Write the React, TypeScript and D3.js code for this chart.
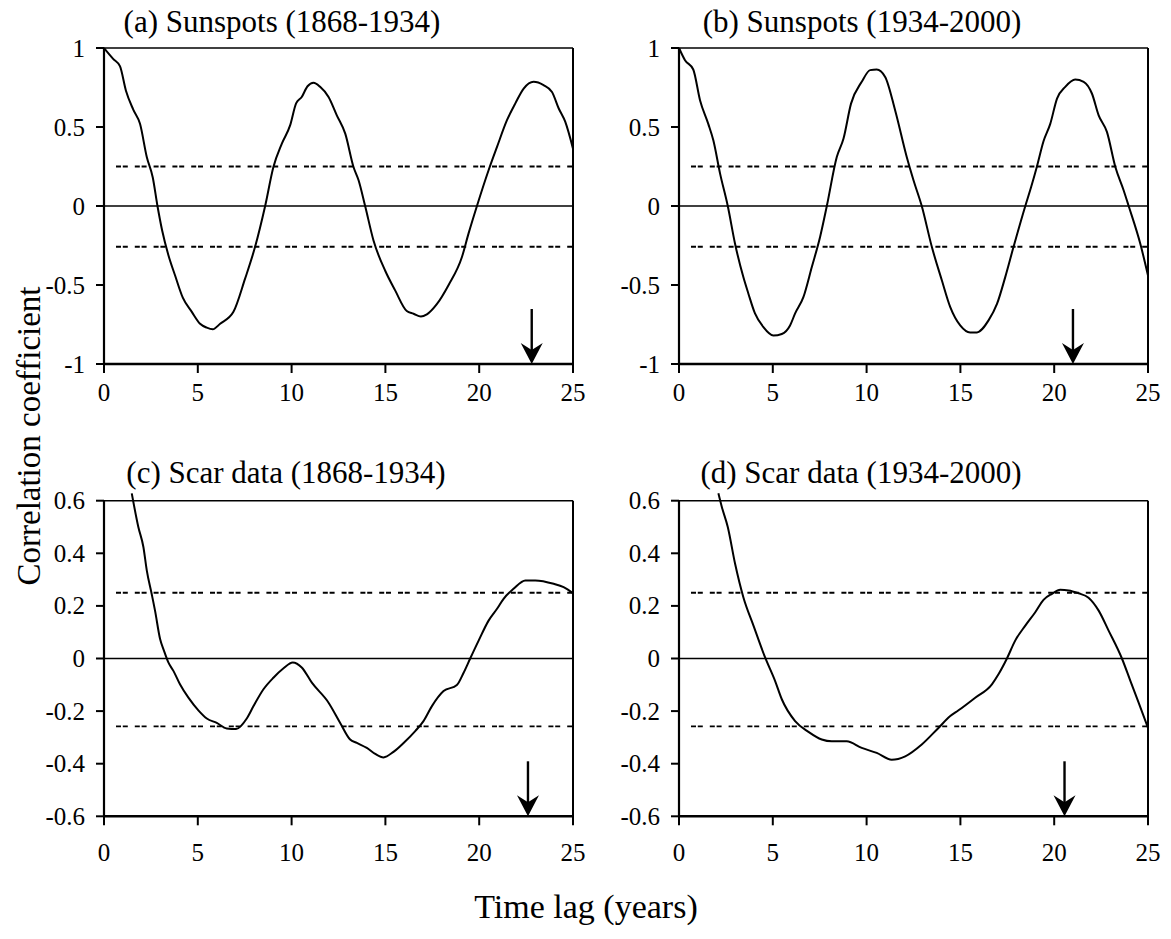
import React from "react";
import * as d3 from "d3";

// ---------- data ----------
const X_TICKS = [0, 5, 10, 15, 20, 25];
const Y_TICKS_TOP = [-1, -0.5, 0, 0.5, 1];
const Y_TICKS_BOTTOM = [-0.6, -0.4, -0.2, 0, 0.2, 0.4, 0.6];

const TITLES = [
  "(a) Sunspots (1868-1934)",
  "(b) Sunspots (1934-2000)",
  "(c) Scar data (1868-1934)",
  "(d) Scar data (1934-2000)",
];

const SIG_UPPER = 0.25;
const SIG_LOWER = -0.258;

const ARROW_LAGS = [22.8, 21.0, 22.6, 20.55];

const LAG_A = [0, 0.5, 0.85, 1.17, 1.56, 1.92, 2.28, 2.6, 2.85, 3.1, 3.43, 3.79, 4.2, 4.68, 5.12, 5.48, 5.8, 6.19, 6.9, 7.52, 8.05, 8.59, 9.03, 9.48, 9.92, 10.24, 10.54, 10.85, 11.17, 11.52, 11.97, 12.41, 12.86, 13.3, 13.57, 13.92, 14.37, 14.99, 15.52, 16.14, 16.5, 16.89, 17.21, 17.75, 18.37, 19.08, 19.43, 19.88, 20.5, 20.95, 21.48, 21.92, 22.37, 22.9, 23.43, 23.88, 24.24, 24.59, 25];
const ACF_A = [1, 0.93, 0.885, 0.73, 0.61, 0.52, 0.31, 0.18, 0, -0.155, -0.31, -0.44, -0.58, -0.67, -0.745, -0.77, -0.78, -0.745, -0.67, -0.46, -0.26, 0, 0.247, 0.395, 0.51, 0.65, 0.69, 0.758, 0.78, 0.754, 0.69, 0.574, 0.458, 0.247, 0.163, 0, -0.22, -0.41, -0.534, -0.665, -0.682, -0.7, -0.686, -0.62, -0.5, -0.323, -0.175, 0, 0.226, 0.374, 0.543, 0.648, 0.743, 0.786, 0.765, 0.722, 0.617, 0.532, 0.363];

const LAG_B = [0, 0.32, 0.76, 1.12, 1.56, 1.83, 2.19, 2.6, 2.99, 3.43, 3.7, 4.05, 4.5, 5.03, 5.48, 5.92, 6.19, 6.63, 7.08, 7.52, 7.88, 8.41, 8.77, 9.17, 9.74, 10.19, 10.54, 10.99, 11.52, 12.14, 12.5, 12.94, 13.48, 14.01, 14.46, 14.99, 15.52, 15.88, 16.5, 16.95, 17.39, 17.83, 18.46, 18.77, 19.08, 19.43, 19.79, 20.15, 20.59, 21.12, 21.57, 22.01, 22.37, 22.81, 23.26, 23.7, 23.97, 24.59, 25];
const ACF_B = [1, 0.923, 0.864, 0.67, 0.52, 0.416, 0.205, 0, -0.24, -0.45, -0.555, -0.68, -0.767, -0.82, -0.81, -0.756, -0.68, -0.577, -0.386, -0.196, 0, 0.31, 0.427, 0.648, 0.786, 0.86, 0.864, 0.817, 0.606, 0.31, 0.163, 0, -0.26, -0.47, -0.64, -0.756, -0.8, -0.8, -0.724, -0.62, -0.45, -0.26, 0, 0.12, 0.25, 0.41, 0.52, 0.68, 0.754, 0.8, 0.786, 0.712, 0.574, 0.469, 0.247, 0.1, 0, -0.239, -0.44];

const LAG_C = [1.48, 1.83, 2.1, 2.28, 2.54, 2.72, 2.99, 3.2, 3.43, 3.7, 4.05, 4.5, 5.03, 5.48, 6.01, 6.54, 7.04, 7.61, 7.97, 8.5, 9.03, 9.57, 10.06, 10.54, 11.08, 11.97, 12.59, 13.12, 13.48, 14.01, 14.46, 14.9, 15.43, 15.97, 16.59, 17.03, 17.48, 18.1, 18.81, 19.17, 19.52, 19.97, 20.5, 20.95, 21.3, 21.83, 22.46, 22.99, 23.97, 24.5, 25];
const ACF_C = [0.628, 0.5, 0.424, 0.335, 0.246, 0.182, 0.074, 0.029, -0.015, -0.047, -0.098, -0.149, -0.197, -0.228, -0.245, -0.266, -0.268, -0.228, -0.181, -0.117, -0.073, -0.037, -0.015, -0.034, -0.092, -0.168, -0.245, -0.308, -0.321, -0.34, -0.363, -0.376, -0.355, -0.321, -0.276, -0.238, -0.181, -0.124, -0.101, -0.054, 0, 0.068, 0.144, 0.189, 0.227, 0.265, 0.297, 0.297, 0.284, 0.271, 0.248];

const LAG_D = [2.1, 2.28, 2.6, 2.99, 3.43, 3.97, 4.59, 5.12, 5.48, 6.19, 6.9, 7.61, 8.14, 8.94, 9.74, 10.54, 11.34, 12.06, 12.94, 13.83, 14.46, 14.9, 15.79, 16.68, 17.03, 17.48, 17.92, 18.46, 18.99, 19.43, 19.88, 20.32, 20.77, 21.3, 21.83, 22.37, 22.9, 23.61, 24.06, 24.5, 25];
const ACF_D = [0.628, 0.577, 0.5, 0.36, 0.233, 0.125, 0.004, -0.085, -0.155, -0.238, -0.279, -0.308, -0.315, -0.315, -0.34, -0.359, -0.385, -0.372, -0.327, -0.264, -0.219, -0.197, -0.149, -0.098, -0.06, 0, 0.068, 0.125, 0.176, 0.223, 0.246, 0.261, 0.259, 0.248, 0.231, 0.182, 0.106, 0, -0.085, -0.168, -0.264];

// ---------- layout ----------
const W = 1171;
const H = 939;
const FONT = "'Liberation Serif', 'Times New Roman', serif";

type Panel = {
  title: string;
  lags: number[];
  acf: number[];
  yDomain: [number, number];
  yTicks: number[];
  arrow: number;
  box: { left: number; right: number; top: number; bottom: number };
  titleX: number;
  titleY: number;
  xLabelY: number;
};

const TOP_BOX = { top: 48, bottom: 364 };
const BOT_BOX = { top: 500.7, bottom: 816.3 };
const LEFT_BOX = { left: 104, right: 573 };
const RIGHT_BOX = { left: 679, right: 1148 };

const PANELS: Panel[] = [
  { title: TITLES[0], lags: LAG_A, acf: ACF_A, yDomain: [-1, 1], yTicks: Y_TICKS_TOP, arrow: ARROW_LAGS[0], box: { ...LEFT_BOX, ...TOP_BOX }, titleX: 282, titleY: 32, xLabelY: 392 },
  { title: TITLES[1], lags: LAG_B, acf: ACF_B, yDomain: [-1, 1], yTicks: Y_TICKS_TOP, arrow: ARROW_LAGS[1], box: { ...RIGHT_BOX, ...TOP_BOX }, titleX: 862, titleY: 32, xLabelY: 392 },
  { title: TITLES[2], lags: LAG_C, acf: ACF_C, yDomain: [-0.6, 0.6], yTicks: Y_TICKS_BOTTOM, arrow: ARROW_LAGS[2], box: { ...LEFT_BOX, ...BOT_BOX }, titleX: 286, titleY: 483, xLabelY: 852 },
  { title: TITLES[3], lags: LAG_D, acf: ACF_D, yDomain: [-0.6, 0.6], yTicks: Y_TICKS_BOTTOM, arrow: ARROW_LAGS[3], box: { ...RIGHT_BOX, ...BOT_BOX }, titleX: 861, titleY: 483, xLabelY: 852 },
];

const fmt = (v: number) => {
  const r = Math.round(v * 10) / 10;
  return r === 0 ? "0" : String(r);
};

function PanelView({ p }: { p: Panel }) {
  const x = d3.scaleLinear().domain([0, 25]).range([p.box.left, p.box.right]);
  const y = d3.scaleLinear().domain(p.yDomain).range([p.box.bottom, p.box.top]);
  const pts: [number, number][] = p.lags.map((l, i) => [l, p.acf[i]]);
  const line = d3
    .line<[number, number]>()
    .x((d) => x(d[0]))
    .y((d) => y(d[1]))
    .curve(d3.curveMonotoneX);

  const ax = x(p.arrow);
  const tipY = y(p.yDomain[0]);
  const arrowTopY = tipY - 55;
  const headLen = 21;
  const headHalf = 11;

  return (
    <g>
      <text x={p.titleX} y={p.titleY} textAnchor="middle" fontFamily={FONT} fontSize={31} fill="#000">
        {p.title}
      </text>

      {/* significance lines */}
      {[SIG_UPPER, SIG_LOWER].map((s, i) => (
        <line
          key={i}
          x1={x(0) + 12}
          x2={x(25)}
          y1={y(s)}
          y2={y(s)}
          stroke="#000"
          strokeWidth={i === 0 ? 2.2 : 1.8}
          strokeDasharray="5 1.8 5 7"
        />
      ))}

      {/* zero line */}
      <line x1={x(0)} x2={x(25)} y1={y(0)} y2={y(0)} stroke="#000" strokeWidth={1.6} />

      {/* frame */}
      <line x1={x(0)} x2={x(25)} y1={y(p.yDomain[1])} y2={y(p.yDomain[1])} stroke="#000" strokeWidth={1.6} />
      <line x1={x(25)} x2={x(25)} y1={y(p.yDomain[1])} y2={y(p.yDomain[0])} stroke="#000" strokeWidth={2} />
      <line x1={x(0)} x2={x(0)} y1={y(p.yDomain[1])} y2={y(p.yDomain[0])} stroke="#000" strokeWidth={2.2} />
      <line x1={x(0) - 1} x2={x(25) + 1} y1={y(p.yDomain[0])} y2={y(p.yDomain[0])} stroke="#000" strokeWidth={2.6} />

      {/* x ticks */}
      {X_TICKS.map((t) => (
        <g key={"x" + t}>
          <line x1={x(t)} x2={x(t)} y1={y(p.yDomain[0])} y2={y(p.yDomain[0]) + 9} stroke="#000" strokeWidth={2} />
          <text x={x(t)} y={p.xLabelY} textAnchor="middle" dominantBaseline="central" fontFamily={FONT} fontSize={25} fill="#000">
            {t}
          </text>
        </g>
      ))}

      {/* y ticks */}
      {p.yTicks.map((t) => (
        <g key={"y" + t}>
          <line x1={x(0) - 8} x2={x(0)} y1={y(t)} y2={y(t)} stroke="#000" strokeWidth={2} />
          <text x={x(0) - 19} y={y(t)} textAnchor="end" dominantBaseline="central" fontFamily={FONT} fontSize={25} fill="#000">
            {fmt(t)}
          </text>
        </g>
      ))}

      {/* correlogram */}
      <path d={line(pts) ?? ""} fill="none" stroke="#000" strokeWidth={2} strokeLinejoin="round" />

      {/* arrow */}
      <line x1={ax} x2={ax} y1={arrowTopY} y2={tipY - 8} stroke="#000" strokeWidth={2.4} />
      <path
        d={`M${ax},${tipY} L${ax - headHalf},${tipY - headLen} L${ax},${tipY - headLen + 7} L${ax + headHalf},${tipY - headLen} Z`}
        fill="#000"
      />
    </g>
  );
}

export default function App() {
  return (
    <svg
      width={W}
      height={H}
      viewBox={`0 0 ${W} ${H}`}
      style={{ position: "absolute", left: 0, top: 0, background: "#fff", display: "block" }}
    >
      <rect x={0} y={0} width={W} height={H} fill="#fff" />
      {PANELS.map((p, i) => (
        <PanelView key={i} p={p} />
      ))}
      <text
        transform="translate(29,436) rotate(-90)"
        textAnchor="middle"
        dominantBaseline="central"
        fontFamily={FONT}
        fontSize={33}
        fill="#000"
      >
        Correlation coefficient
      </text>
      <text x={586} y={906} textAnchor="middle" dominantBaseline="central" fontFamily={FONT} fontSize={34} fill="#000">
        Time lag (years)
      </text>
    </svg>
  );
}
